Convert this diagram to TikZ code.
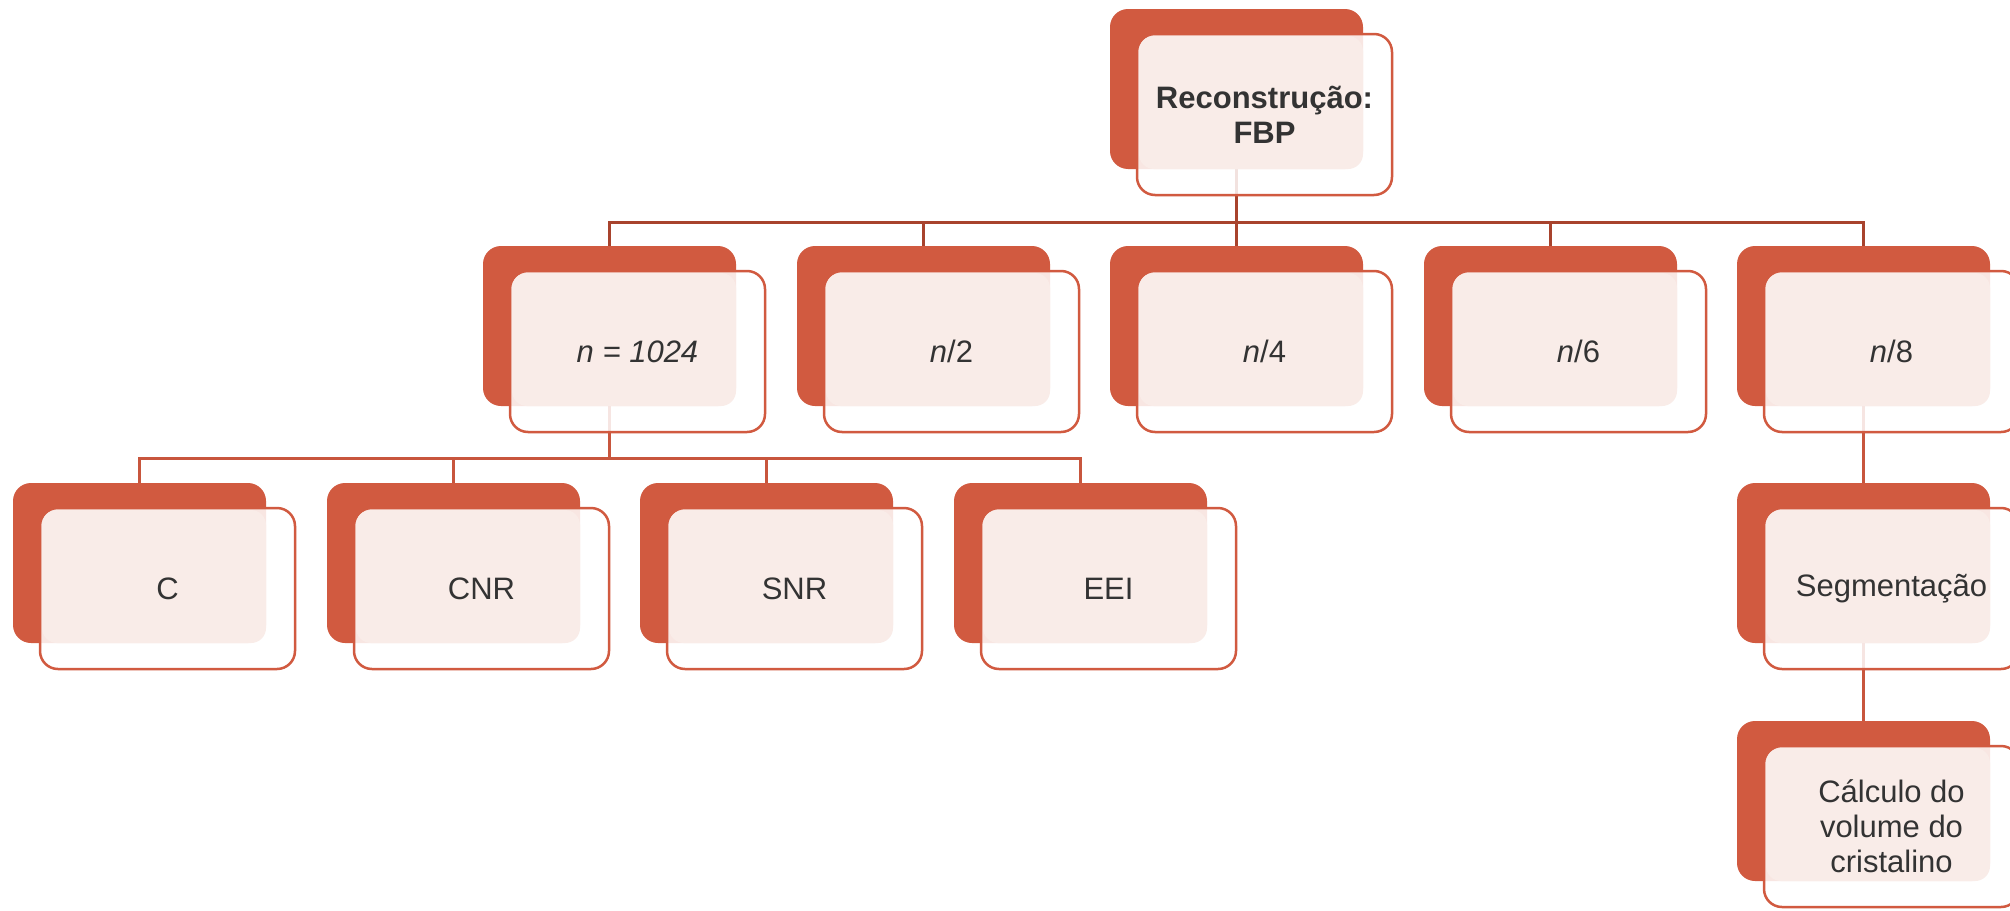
\documentclass[tikz,border=0pt]{standalone}
\usepackage{fontspec}
\setmainfont{Liberation Sans}
\usetikzlibrary{calc}
\definecolor{accent}{HTML}{D15A40}
\definecolor{pinkfill}{HTML}{F9ECE8}
\definecolor{connAc}{HTML}{A8432D}
\definecolor{connBc}{HTML}{C8563D}
\definecolor{txt}{HTML}{333333}
\pgfdeclarelayer{bg}
\pgfsetlayers{bg,main}
\newcommand\mybox[4]{%
  \node[backbox, anchor=north west] (#1b) at (#2,#3) {};
  \node[frontbox, anchor=north west] (#1f) at (#2+27,#3+25) {};
  \fill[pinkfill, rounded corners=15pt] ($(#1f.north west)+(2,2)$) rectangle (#1b.south east);
  \node[lbl] (#1t) at (#1f.center) {#4};
}
\begin{document}
\begin{tikzpicture}[x=1pt,y=-1pt,
  backbox/.style={fill=accent, rounded corners=18pt, minimum width=253pt, minimum height=160pt, inner sep=0pt, outer sep=0pt},
  frontbox/.style={draw=accent, line width=2.5pt, fill=white, fill opacity=0.85, rounded corners=18pt, minimum width=255pt, minimum height=161pt, inner sep=0pt, outer sep=0pt},
  lbl/.style={text=txt, font=\fontsize{31}{35}\selectfont, align=center, inner sep=0pt},
  connA/.style={draw=connAc, line width=3pt},
  connB/.style={draw=connBc, line width=3pt},
]
\useasboundingbox (0,0) rectangle (2010,910);
\mybox{top}{1110}{9}{\textbf{Reconstrução:}\\\textbf{FBP}}
\mybox{na}{483}{246}{\textit{n = 1024}}
\mybox{nb}{797}{246}{\textit{n}/2}
\mybox{nc}{1110}{246}{\textit{n}/4}
\mybox{nd}{1424}{246}{\textit{n}/6}
\mybox{ne}{1737}{246}{\textit{n}/8}
\mybox{c}{13}{483}{C}
\mybox{cnr}{327}{483}{CNR}
\mybox{snr}{640}{483}{SNR}
\mybox{eei}{954}{483}{EEI}
\mybox{seg}{1737}{483}{Segmentação}
\mybox{calc}{1737}{721}{\fontsize{31}{33}\selectfont Cálculo do\\volume do\\cristalino}
\begin{pgfonlayer}{bg}
  \fill[white] (0,0) rectangle (2010,910);
  \foreach \k in {na,nb,nc,nd,ne}
    \draw[connA] (topb.south) -- ++(0,53) -| (\k b.north);
  \foreach \k in {c,cnr,snr,eei}
    \draw[connB] (nab.south) -- ++(0,52) -| (\k b.north);
  \draw[connB] (neb.south) -- (segb.north);
  \draw[connB] (segb.south) -- (calcb.north);
\end{pgfonlayer}
\end{tikzpicture}
\end{document}
